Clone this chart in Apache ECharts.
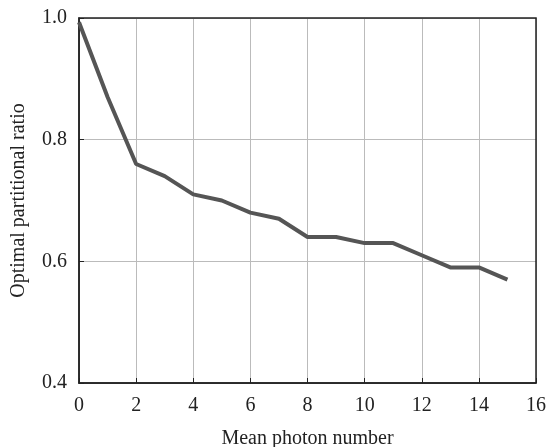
<!DOCTYPE html>
<html>
<head>
  <meta charset="utf-8">
  <title>Optimal partitional ratio</title>
  <script src="https://cdn.jsdelivr.net/npm/echarts@6/dist/echarts.min.js"></script>
</head>
<style>
  html, body { margin: 0; padding: 0; background: #fff; }
</style>
<body>
  <div id="chart" style="width: 547px; height: 447px;"></div>
  <script>
    // 读取自图片的数据
    const photonNumbers = [0, 1, 2, 3, 4, 5, 6, 7, 8, 9, 10, 11, 12, 13, 14, 15];
    const ratios = [0.993, 0.87, 0.76, 0.74, 0.71, 0.70, 0.68, 0.67, 0.64, 0.64, 0.63, 0.63, 0.61, 0.59, 0.59, 0.57];

    const font = 'Liberation Serif, Times New Roman, serif';
    const chart = echarts.init(document.getElementById('chart'));
    chart.setOption({
      animation: false,
      grid: { left: 79, right: 11, top: 18, bottom: 64, outerBoundsMode: 'none' },
      xAxis: {
        type: 'value', min: 0, max: 16, interval: 2,
        name: 'Mean photon number', nameLocation: 'middle', nameGap: 46,
        nameTextStyle: { fontFamily: font, fontSize: 20, color: '#222' },
        axisLine: { show: true, lineStyle: { color: '#222', width: 1.5 } },
        axisTick: { show: true, inside: true, length: 5, lineStyle: { color: '#222' } },
        axisLabel: { fontFamily: font, fontSize: 20, color: '#222', margin: 13 },
        splitLine: { show: true, lineStyle: { color: '#bbb', width: 1 } }
      },
      yAxis: {
        type: 'value', min: 0.4, max: 1.0, interval: 0.2,
        name: 'Optimal partitional ratio', nameLocation: 'middle', nameGap: 50,
        nameTextStyle: { fontFamily: font, fontSize: 20, color: '#222' },
        axisLine: { show: true, lineStyle: { color: '#222', width: 1.5 } },
        axisTick: { show: true, inside: true, length: 5, lineStyle: { color: '#222' } },
        axisLabel: { fontFamily: font, fontSize: 20, color: '#222', margin: 12, formatter: v => v.toFixed(1) },
        splitLine: { show: true, lineStyle: { color: '#bbb', width: 1 } }
      },
      series: [{
        type: 'line',
        data: photonNumbers.map((x, i) => [x, ratios[i]]),
        symbol: 'none',
        lineStyle: { color: '#555', width: 4 }
      }]
    });
    // 画出边框
    const tl = chart.convertToPixel({ gridIndex: 0 }, [0, 1.0]);
    const br = chart.convertToPixel({ gridIndex: 0 }, [16, 0.4]);
    chart.setOption({
      graphic: [{
        type: 'rect',
        shape: { x: tl[0], y: tl[1], width: br[0] - tl[0], height: br[1] - tl[1] },
        style: { fill: 'none', stroke: '#222', lineWidth: 1.5 },
        silent: true
      }]
    });
  </script>
</body>
</html>
